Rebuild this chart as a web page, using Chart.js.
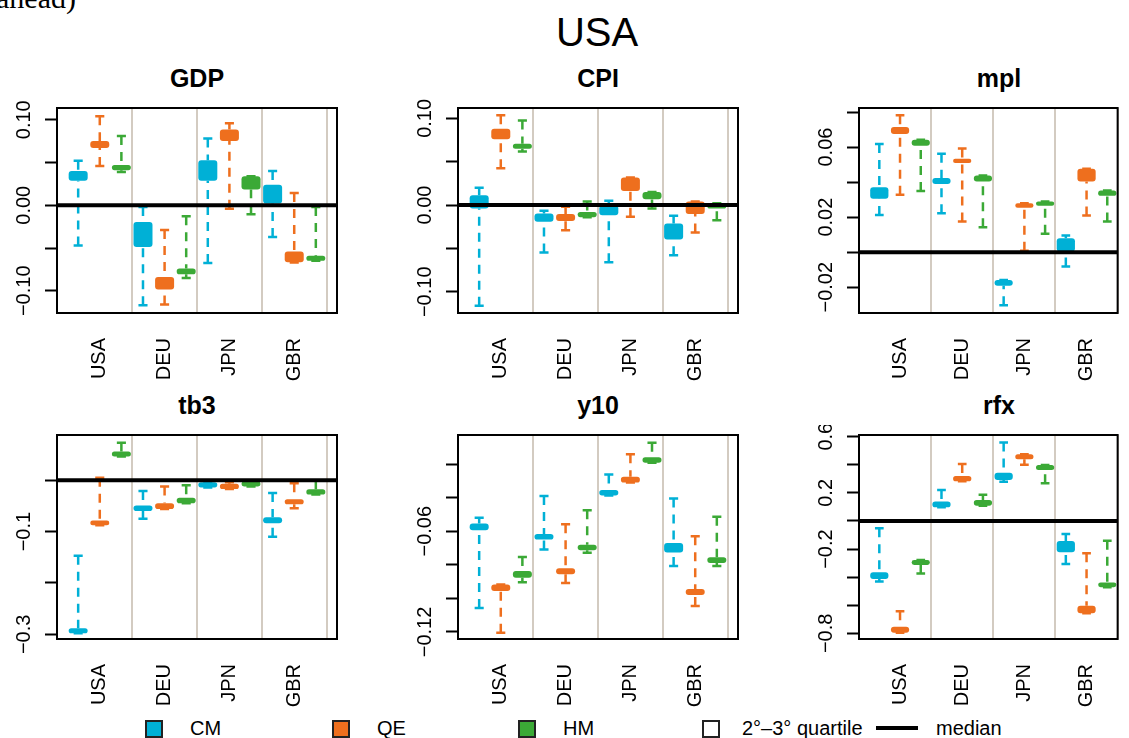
<!DOCTYPE html>
<html><head><meta charset="utf-8">
<script src="https://cdn.jsdelivr.net/npm/chart.js@4.4.1/dist/chart.umd.min.js"></script>
<style>
html,body{margin:0;padding:0;background:#fff;}
body{width:1129px;height:738px;overflow:hidden;position:relative;font-family:"Liberation Sans",Arial,Helvetica,sans-serif;color:#000;}
.abs{position:absolute;white-space:nowrap;}
canvas{position:absolute;}
.ptitle{position:absolute;text-align:center;font-weight:bold;font-size:25px;line-height:25px;white-space:nowrap;}
.lg-box{position:absolute;width:14px;height:14px;border:2px solid #222;top:720px;}
.lg-txt{position:absolute;font-size:20px;line-height:20px;top:718px;white-space:nowrap;}
</style></head><body>
<div class="abs" style="left:-4px;top:-17px;font-family:'Liberation Serif','DejaVu Serif',serif;font-size:30px;line-height:30px;">ahead)</div>
<div class="abs" style="left:397px;top:12px;width:400px;text-align:center;font-size:40px;line-height:40px;">USA</div>
<script>
// ---------------- data ----------------
const categories = ['USA', 'DEU', 'JPN', 'GBR'];
const seriesNames = ['CM', 'QE', 'HM'];
const seriesColors = ['#00B0D6', '#EE6F1E', '#3BA936'];
const referenceLine = 0;
// per country: [lower whisker, lower quartile, upper quartile, upper whisker]
const gdpCM = [[-0.047, 0.0285, 0.040, 0.052], [-0.117, -0.0487, -0.0195, -0.002], [-0.0674, 0.0285, 0.0526, 0.078], [-0.037, 0.002, 0.024, 0.040]];
const gdpQE = [[0.046, 0.067, 0.075, 0.104], [-0.116, -0.0986, -0.0838, -0.029], [-0.004, 0.075, 0.0885, 0.096], [-0.067, -0.0667, -0.054, 0.0144]];
const gdpHM = [[0.039, 0.041, 0.047, 0.081], [-0.085, -0.0807, -0.074, -0.013], [-0.0105, 0.0183, 0.0339, 0.0339], [-0.065, -0.065, -0.059, -0.002]];

const cpiCM = [[-0.116, -0.0039, 0.0112, 0.020], [-0.0548, -0.0193, -0.0097, -0.0066], [-0.066, -0.0116, 0.000, 0.005], [-0.058, -0.0398, -0.0212, -0.0124]];
const cpiQE = [[0.0425, 0.076, 0.088, 0.1035], [-0.029, -0.0185, -0.0104, -0.002], [-0.0135, 0.0162, 0.0317, 0.0317], [-0.0317, -0.0104, 0.0042, 0.0042]];
const cpiHM = [[0.0618, 0.0649, 0.0707, 0.0977], [-0.0139, -0.0139, -0.008, 0.004], [-0.004, 0.0066, 0.015, 0.015], [-0.0174, -0.004, 0.002, 0.002]];

const mplCM = [[0.0213, 0.0305, 0.037, 0.0617], [0.0223, 0.0389, 0.0423, 0.0562], [-0.0303, -0.0192, -0.0158, -0.0158], [-0.0082, 0.0004, 0.008, 0.0095]];
const mplQE = [[0.0328, 0.0674, 0.0714, 0.0781], [0.0175, 0.0509, 0.0533, 0.0592], [0.0008, 0.0253, 0.028, 0.028], [0.021, 0.0404, 0.0476, 0.0476]];
const mplHM = [[0.035, 0.0608, 0.0642, 0.0642], [0.0143, 0.0404, 0.0438, 0.0438], [0.0105, 0.0265, 0.029, 0.029], [0.0175, 0.0322, 0.0352, 0.0352]];

const tb3CM = [[-0.298, -0.298, -0.288, -0.147], [-0.075, -0.060, -0.049, -0.021], [-0.014, -0.014, -0.004, -0.004], [-0.11, -0.0838, -0.072, -0.025]];
const tb3QE = [[-0.0877, -0.0877, -0.0786, 0.005], [-0.056, -0.056, -0.045, -0.012], [-0.017, -0.017, -0.007, -0.004], [-0.0545, -0.047, -0.037, -0.006]];
const tb3HM = [[0.046, 0.046, 0.0558, 0.073], [-0.045, -0.045, -0.034, -0.010], [-0.0123, -0.0123, -0.0026, -0.0026], [-0.028, -0.028, -0.0175, -0.001]];

const y10CM = [[-0.1058, -0.0594, -0.0554, -0.052], [-0.0709, -0.065, -0.0616, -0.0391], [-0.0387, -0.0387, -0.0355, -0.0262], [-0.0807, -0.0727, -0.067, -0.0405]];
const y10QE = [[-0.1205, -0.0956, -0.0918, -0.0918], [-0.0908, -0.0857, -0.0821, -0.0558], [-0.031, -0.031, -0.0276, -0.0142], [-0.1046, -0.098, -0.0944, -0.063]];
const y10HM = [[-0.0904, -0.0877, -0.0837, -0.0753], [-0.0729, -0.0713, -0.068, -0.0475], [-0.0192, -0.0192, -0.016, -0.0073], [-0.0807, -0.0789, -0.0755, -0.0514]];

const rfxCM = [[-0.43, -0.413, -0.365, -0.052], [0.097, 0.097, 0.138, 0.221], [0.28, 0.292, 0.344, 0.558], [-0.306, -0.223, -0.142, -0.0925]];
const rfxQE = [[-0.795, -0.795, -0.752, -0.643], [0.282, 0.282, 0.32, 0.406], [0.40, 0.439, 0.475, 0.475], [-0.657, -0.657, -0.603, -0.230]];
const rfxHM = [[-0.373, -0.313, -0.278, -0.278], [0.109, 0.109, 0.15, 0.187], [0.268, 0.363, 0.399, 0.399], [-0.472, -0.472, -0.437, -0.14]];

const M = '\u2212';
const gdpTicks = [-0.10, -0.05, 0, 0.05, 0.10];
const gdpTickLabels = [M + '0.10', '', '0.00', '', '0.10'];
const cpiTicks = [-0.10, -0.05, 0, 0.05, 0.10];
const cpiTickLabels = [M + '0.10', '', '0.00', '', '0.10'];
const mplTicks = [-0.02, 0, 0.02, 0.04, 0.06, 0.08];
const mplTickLabels = [M + '0.02', '', '0.02', '', '0.06', ''];
const tb3Ticks = [-0.3, -0.2, -0.1, 0];
const tb3TickLabels = [M + '0.3', '', M + '0.1', ''];
const y10Ticks = [-0.12, -0.10, -0.08, -0.06, -0.04, -0.02];
const y10TickLabels = [M + '0.12', '', '', M + '0.06', '', ''];
const rfxTicks = [-0.8, -0.6, -0.4, -0.2, 0, 0.2, 0.4, 0.6];
const rfxTickLabels = [M + '0.8', '', '', M + '0.2', '', '0.2', '', '0.6'];

// ---------------- layout ----------------
const X_MIN = 0.02, X_MAX = 12.98;          // R's 4% axis extension around 0.5 .. 12.5
const X_MAX_CUT = 12.5;                      // right-hand column is cropped at the last separator
const separators = [3.5, 6.5, 9.5, 12.5];
const CAP = 0.21;
const PAD_L = 57, PAD_T = 10, PAD_R = 10, X_AX_H = 75;

const panels = [
  {title: 'GDP', series: [gdpCM, gdpQE, gdpHM], min: -0.126, max: 0.1137, ticks: gdpTicks, labels: gdpTickLabels, left: 57, top: 108, h: 205, w: 280, xmax: X_MAX},
  {title: 'CPI', series: [cpiCM, cpiQE, cpiHM], min: -0.1245, max: 0.112, ticks: cpiTicks, labels: cpiTickLabels, left: 458, top: 108, h: 205, w: 280, xmax: X_MAX},
  {title: 'mpl', series: [mplCM, mplQE, mplHM], min: -0.0347, max: 0.0823, ticks: mplTicks, labels: mplTickLabels, left: 859, top: 108, h: 205, w: 269, xmax: X_MAX_CUT},
  {title: 'tb3', series: [tb3CM, tb3QE, tb3HM], min: -0.309, max: 0.088, ticks: tb3Ticks, labels: tb3TickLabels, left: 57, top: 435, h: 204, w: 280, xmax: X_MAX},
  {title: 'y10', series: [y10CM, y10QE, y10HM], min: -0.1242, max: -0.0027, ticks: y10Ticks, labels: y10TickLabels, left: 458, top: 435, h: 204, w: 280, xmax: X_MAX},
  {title: 'rfx', series: [rfxCM, rfxQE, rfxHM], min: -0.840, max: 0.612, ticks: rfxTicks, labels: rfxTickLabels, left: 859, top: 435, h: 204, w: 269, xmax: X_MAX_CUT}
];

function makePanel(p) {
  const t = document.createElement('div');
  t.className = 'ptitle';
  t.textContent = p.title;
  t.style.left = p.left + 'px';
  t.style.width = '280px';
  t.style.top = (p.top - 42) + 'px';
  document.body.appendChild(t);

  const cv = document.createElement('canvas');
  const W = PAD_L + p.w + PAD_R, H = PAD_T + p.h + X_AX_H;
  cv.width = W; cv.height = H;
  cv.style.width = W + 'px'; cv.style.height = H + 'px';
  cv.style.left = (p.left - PAD_L) + 'px';
  cv.style.top = (p.top - PAD_T) + 'px';
  document.body.appendChild(cv);

  const datasets = [];
  datasets.push({type: 'line', data: [{x: X_MIN, y: referenceLine}, {x: p.xmax, y: referenceLine}],
    borderColor: '#000', borderWidth: 4, pointRadius: 0, order: 0});
  p.series.forEach((vals, s) => {
    const color = seriesColors[s];
    const pos = i => i * 3 + s + 1;
    datasets.push({type: 'bar', label: seriesNames[s],
      data: vals.map((v, i) => ({x: pos(i), y: [v[1], v[2]]})),
      backgroundColor: color, borderWidth: 0, borderRadius: 3, borderSkipped: false,
      grouped: false, categoryPercentage: 1, barPercentage: 0.88, order: 1});
    const wh = [], caps = [];
    vals.forEach((v, i) => {
      const x = pos(i);
      wh.push({x, y: v[3]}, {x, y: v[2]}, {x, y: null}, {x, y: v[0]}, {x, y: v[1]}, {x, y: null});
      caps.push({x: x - CAP, y: v[3]}, {x: x + CAP, y: v[3]}, {x, y: null},
                {x: x - CAP, y: v[0]}, {x: x + CAP, y: v[0]}, {x, y: null});
    });
    datasets.push({type: 'line', data: caps, borderColor: color, borderWidth: 2.5, pointRadius: 0,
      spanGaps: false, borderCapStyle: 'butt', order: 2});
    datasets.push({type: 'line', data: wh, borderColor: color, borderWidth: 2.5, pointRadius: 0,
      spanGaps: false, borderDash: [9, 7], borderCapStyle: 'butt', order: 3});
  });

  const deco = {
    id: 'rdeco',
    afterDraw(chart) {
      const {ctx, chartArea: a} = chart;
      const ys = chart.scales.y;
      ctx.save();
      ctx.strokeStyle = '#000'; ctx.lineWidth = 2;
      ctx.strokeRect(a.left, a.top, a.right - a.left, a.bottom - a.top);
      ctx.fillStyle = '#000';
      ctx.font = '20px "Liberation Sans", Arial, sans-serif';
      ctx.textAlign = 'center'; ctx.textBaseline = 'alphabetic';
      p.ticks.forEach((v, i) => {
        const lab = p.labels[i];
        if (!lab) return;
        const y = ys.getPixelForValue(v);
        ctx.save(); ctx.translate(a.left - 27, y); ctx.rotate(-Math.PI / 2);
        ctx.fillText(lab, 0, 0); ctx.restore();
      });
      ctx.restore();
    }
  };

  new Chart(cv, {
    type: 'bar',
    data: {datasets},
    plugins: [deco],
    options: {
      responsive: false, animation: false, events: [],
      devicePixelRatio: 1,
      layout: {padding: {left: 0, top: PAD_T, right: PAD_R, bottom: 0}, autoPadding: false},
      plugins: {legend: {display: false}, tooltip: {enabled: false}, title: {display: false}},
      scales: {
        x: {type: 'linear', position: 'bottom', min: X_MIN, max: p.xmax, offset: false,
          afterBuildTicks: s => { s.ticks = categories.map((c, i) => ({value: i * 3 + 2})); },
          afterFit: s => { s.height = X_AX_H; },
          grid: {display: false, drawTicks: false, offset: false},
          border: {display: false},
          ticks: {autoSkip: false, minRotation: 90, maxRotation: 90, padding: 25, color: '#000',
            font: {size: 20, family: '"Liberation Sans", Arial, sans-serif'},
            callback: (v, i) => categories[i]}},
        x2: {type: 'linear', axis: 'x', position: 'top', min: X_MIN, max: p.xmax, offset: false,
          afterBuildTicks: s => { s.ticks = separators.map(v => ({value: v})); },
          afterFit: s => { s.height = 0; },
          grid: {display: true, drawTicks: false, offset: false, color: '#D3CBC1', lineWidth: 2},
          border: {display: false},
          ticks: {display: false}},
        y: {type: 'linear', position: 'left', min: p.min, max: p.max, beginAtZero: false,
          afterBuildTicks: s => { s.ticks = p.ticks.map(v => ({value: v})); },
          afterFit: s => { s.width = PAD_L; },
          grid: {drawOnChartArea: false, drawTicks: true, tickLength: 12, tickWidth: 2, tickColor: '#000', color: '#000'},
          border: {display: false},
          ticks: {display: false}}
      }
    }
  });
}
panels.forEach(makePanel);

// ---------------- legend ----------------
const legendItems = [
  {label: seriesNames[0], fill: seriesColors[0], box: 145, text: 190},
  {label: seriesNames[1], fill: seriesColors[1], box: 332, text: 377},
  {label: seriesNames[2], fill: seriesColors[2], box: 518, text: 563},
  {label: '2°–3° quartile', fill: '#fff', box: 702, text: 742}
];
legendItems.forEach(it => {
  const b = document.createElement('div');
  b.className = 'lg-box'; b.style.left = it.box + 'px'; b.style.background = it.fill;
  document.body.appendChild(b);
  const t = document.createElement('div');
  t.className = 'lg-txt'; t.style.left = it.text + 'px'; t.textContent = it.label;
  document.body.appendChild(t);
});
const ml = document.createElement('div');
ml.style.cssText = 'position:absolute;left:876px;top:726px;width:42px;height:4px;background:#000;';
document.body.appendChild(ml);
const mt = document.createElement('div');
mt.className = 'lg-txt'; mt.style.left = '936px'; mt.textContent = 'median';
document.body.appendChild(mt);
</script>
</body></html>
